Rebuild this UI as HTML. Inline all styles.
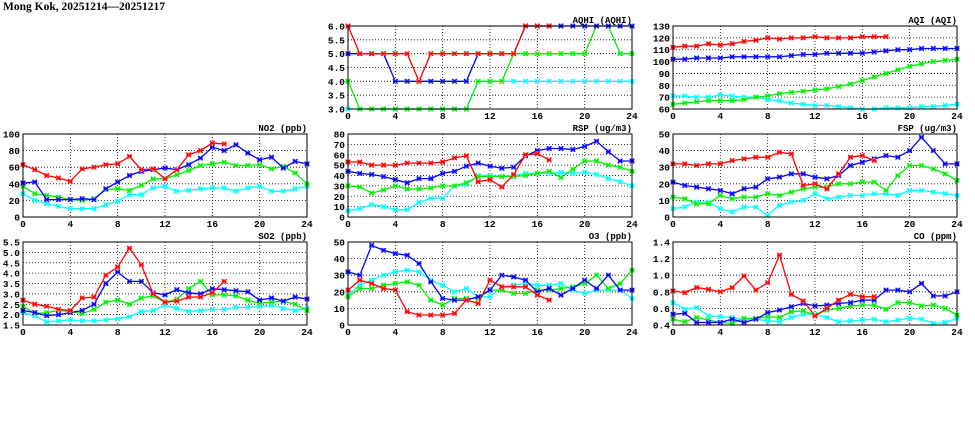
<!DOCTYPE html>
<html><head><meta charset="utf-8"><style>
html,body{margin:0;padding:0;background:#fff;width:975px;height:447px;overflow:hidden}
svg{display:block}
</style></head><body>
<svg id="chart" width="975" height="447" xmlns="http://www.w3.org/2000/svg">
<text x="3" y="10" font-family="Liberation Serif, serif" font-weight="bold" font-size="11.5">Mong Kok, 20251214—20251217</text>
</svg>
<script>
const hours = [0,1,2,3,4,5,6,7,8,9,10,11,12,13,14,15,16,17,18,19,20,21,22,23,24];
const xTicks = [0,4,8,12,16,20,24];

const aqhiRed = [6,5,5,5,5,5,4,5,5,5,5,5,5,5,5,6,6,6];
const aqhiBlue = [5,5,5,5,4,4,4,4,4,4,4,5,5,5,5,6,6,6,6,6,6,6,6,6,6];
const aqhiGreen = [4,3,3,3,3,3,3,3,3,3,3,4,4,4,5,5,5,5,5,5,5,6,6,5,5];
const aqhiCyan = [3,3,3,3,3,3,3,3,3,3,3,4,4,4,4,4,4,4,4,4,4,4,4,4,4];
const aqhiTicks = [3.0,3.5,4.0,4.5,5.0,5.5,6.0];

const aqiRed = [112,113,113,115,114,115,117,118,120,119,120,120,121,120,120,120,121,121,121];
const aqiBlue = [102,102,103,103,103,104,104,104,104,104,105,106,106,107,107,107,107,108,109,110,110,111,111,111,111];
const aqiGreen = [64,65,66,67,67,67,68,70,71,73,74,75,76,77,79,81,84,87,90,93,96,98,100,101,102];
const aqiCyan = [71,71,70,70,72,71,70,70,68,67,65,64,63,63,62,61,60,60,61,61,61,62,62,63,64];
const aqiTicks = [60,70,80,90,100,110,120,130];

const no2Red = [63,57,50,47,43,58,60,63,64,73,57,58,46,57,75,80,89,88];
const no2Blue = [41,42,21,21,21,22,21,34,42,50,55,57,59,57,63,71,84,80,87,77,69,72,59,67,64];
const no2Green = [37,28,26,24,21,20,22,33,34,32,38,46,46,51,56,62,64,66,62,62,63,58,61,53,40];
const no2Cyan = [28,20,16,13,10,10,10,15,19,27,27,35,37,31,32,34,35,35,31,35,37,31,31,34,37];
const no2Ticks = [0,20,40,60,80,100];

const rspRed = [53,53,50,50,50,52,52,52,53,57,59,34,36,29,41,60,61,55];
const rspBlue = [44,42,41,39,36,33,37,37,42,44,49,52,49,47,48,59,64,66,66,65,68,73,63,54,54];
const rspGreen = [30,29,23,26,30,27,27,28,30,30,33,39,39,39,39,40,42,44,38,46,54,54,50,48,44];
const rspCyan = [6,8,12,10,7,7,14,18,18,30,31,40,40,39,40,42,42,42,43,42,43,41,37,34,30];
const rspTicks = [0,10,20,30,40,50,60,70,80];

const fspRed = [32,32,31,32,32,34,35,36,36,39,38,19,20,17,26,36,37,34];
const fspBlue = [21,19,18,17,16,14,17,18,23,24,26,26,24,23,25,31,33,35,37,36,40,48,40,32,32];
const fspGreen = [12,11,8,8,13,11,12,12,14,13,15,17,18,18,20,20,21,21,16,25,31,31,29,26,22];
const fspCyan = [5,6,9,9,5,3,6,6,1,7,9,10,14,11,12,13,13,14,14,13,16,16,15,14,13];
const fspTicks = [0,10,20,30,40,50];

const so2Red = [2.7,2.5,2.4,2.25,2.2,2.8,2.85,3.9,4.3,5.2,4.4,3.0,2.6,2.65,2.85,2.85,3.05,3.6];
const so2Blue = [2.2,2.1,1.95,2.0,2.1,2.2,2.5,3.5,4.05,3.6,3.6,3.05,2.95,3.2,3.05,3.0,3.25,3.2,3.15,3.1,2.7,2.8,2.65,2.85,2.75];
const so2Green = [2.4,2.05,2.1,2.2,2.15,2.05,2.25,2.6,2.7,2.5,2.8,2.9,2.6,2.75,3.25,3.6,2.95,2.95,2.9,2.7,2.55,2.6,2.65,2.5,2.2];
const so2Cyan = [2.1,1.95,1.65,1.7,1.75,1.7,1.7,1.75,1.8,1.9,2.15,2.2,2.45,2.3,2.15,2.2,2.25,2.25,2.35,2.35,2.4,2.45,2.3,2.2,2.3];
const so2Ticks = [1.5,2.0,2.5,3.0,3.5,4.0,4.5,5.0,5.5];

const o3Red = [21,27,25,22,21,8,6,6,6,7,15,13,27,23,23,23,18,15];
const o3Blue = [32,30,48,45,43,42,37,26,16,15,15,17,21,30,29,27,20,22,18,22,27,22,30,21,21];
const o3Green = [17,22,22,24,25,26,24,15,12,16,16,16,21,21,19,19,21,21,22,23,25,30,22,25,33];
const o3Cyan = [18,24,27,30,32,33,32,27,24,20,22,17,17,23,24,25,24,24,25,21,19,21,21,21,16];
const o3Ticks = [0,10,20,30,40,50];

const coRed = [0.81,0.79,0.85,0.83,0.80,0.85,0.99,0.82,0.91,1.24,0.77,0.69,0.51,0.60,0.70,0.77,0.74,0.74];
const coBlue = [0.53,0.54,0.43,0.43,0.43,0.47,0.43,0.47,0.55,0.58,0.62,0.66,0.63,0.64,0.66,0.67,0.70,0.70,0.82,0.82,0.80,0.90,0.75,0.75,0.80];
const coGreen = [0.47,0.44,0.49,0.46,0.43,0.42,0.48,0.48,0.50,0.49,0.56,0.57,0.52,0.58,0.60,0.63,0.64,0.64,0.59,0.67,0.67,0.63,0.64,0.60,0.52];
const coCyan = [0.67,0.59,0.61,0.51,0.50,0.49,0.46,0.47,0.45,0.44,0.49,0.53,0.53,0.49,0.44,0.45,0.46,0.47,0.44,0.46,0.48,0.47,0.42,0.43,0.48];
const coTicks = [0.4,0.6,0.8,1.0,1.2,1.4];

const NS = 'http://www.w3.org/2000/svg';
const svg = document.getElementById('chart');
function mk(tag, attrs, parent){
  const e = document.createElementNS(NS, tag);
  for (const k in attrs) e.setAttribute(k, attrs[k]);
  (parent||svg).appendChild(e);
  return e;
}
const W = 284, H = 83;
const panels = [
  {key:'aqhi', title:'AQHI (AQHI)', left:348, top:26, ticks:aqhiTicks, dec:1, s:[aqhiCyan,aqhiGreen,aqhiBlue,aqhiRed]},
  {key:'aqi', title:'AQI (AQI)', left:673, top:26, ticks:aqiTicks, dec:0, s:[aqiCyan,aqiGreen,aqiBlue,aqiRed]},
  {key:'no2', title:'NO2 (ppb)', left:23, top:134, ticks:no2Ticks, dec:0, s:[no2Cyan,no2Green,no2Blue,no2Red]},
  {key:'rsp', title:'RSP (ug/m3)', left:348, top:134, ticks:rspTicks, dec:0, s:[rspCyan,rspGreen,rspBlue,rspRed]},
  {key:'fsp', title:'FSP (ug/m3)', left:673, top:134, ticks:fspTicks, dec:0, s:[fspCyan,fspGreen,fspBlue,fspRed]},
  {key:'so2', title:'SO2 (ppb)', left:23, top:242, ticks:so2Ticks, dec:1, s:[so2Cyan,so2Green,so2Blue,so2Red]},
  {key:'o3', title:'O3 (ppb)', left:348, top:242, ticks:o3Ticks, dec:0, s:[o3Cyan,o3Green,o3Blue,o3Red]},
  {key:'co', title:'CO (ppm)', left:673, top:242, ticks:coTicks, dec:1, s:[coCyan,coGreen,coBlue,coRed]}
];
const colors = ['#00ffff','#00ee00','#0000ff','#ff0000'];
const fills = ['#a0ffff','#a0ffa0','#a0a0ff','#ffa0a0'];
const sNames = ['cyan','green','blue','red'];
const font = 'Liberation Mono, monospace';

panels.forEach(p => {
  const g = mk('g', {});
  
  
  const ymin = p.ticks[0], ymax = p.ticks[p.ticks.length-1];
  const xs = h => p.left + h / 24 * W;
  const ys = v => p.top + H - (v - ymin) / (ymax - ymin) * H;
  p.ticks.forEach(t => {
    const y = ys(t);
    if (t !== ymin && t !== ymax) {
      const l = mk('line', {x1:p.left, x2:p.left+W, y1:y, y2:y, stroke:'#000', 'stroke-width':0.8, 'stroke-dasharray':'1,2'}, g);
      
      
    }
    const tx = mk('text', {x:p.left-3, y:y+3.5, 'text-anchor':'end', 'font-family':font, 'font-size':9.5, 'font-weight':'bold'}, g);
    
    
    tx.textContent = t.toFixed(p.dec);
  });
  xTicks.forEach(t => {
    const x = xs(t);
    if (t !== 0 && t !== 24) {
      const l = mk('line', {x1:x, x2:x, y1:p.top, y2:p.top+H, stroke:'#000', 'stroke-width':0.8, 'stroke-dasharray':'1,2'}, g);
      
      
    }
    const tx = mk('text', {x:x, y:p.top+H+10, 'text-anchor':'middle', 'font-family':font, 'font-size':9.5, 'font-weight':'bold'}, g);
    
    
    tx.textContent = t;
  });
  const ttl = mk('text', {x:p.left+W, y:p.top-3, 'text-anchor':'end', 'font-family':font, 'font-size':9, 'font-weight':'bold'}, g);
  
  
  ttl.textContent = p.title;
  p.s.forEach((arr, si) => {
    const pts = arr.map((v,i) => [xs(hours[i]), ys(v)]);
    const line = mk('polyline', {points: pts.map(q => q[0].toFixed(1)+','+q[1].toFixed(1)).join(' '), fill:'none', stroke:colors[si], 'stroke-width':1.3}, g);
    
    
    pts.forEach(q => {
      const m = mk('g', {}, g);
      
      
      const x = q[0], y = q[1], r = 2.3;
      mk('rect', {x:x-r, y:y-r, width:2*r, height:2*r, fill:fills[si], stroke:'none'}, m);
      mk('path', {d:`M${x-r},${y-r}L${x+r},${y+r}M${x-r},${y+r}L${x+r},${y-r}M${x-r},${y}L${x+r},${y}`, stroke:colors[si], 'stroke-width':1.2}, m);
    });
  });
  const fr = mk('rect', {x:p.left, y:p.top, width:W, height:H, fill:'none', stroke:'#000', 'stroke-width':1}, g);
  
  
});
</script>
</body></html>
